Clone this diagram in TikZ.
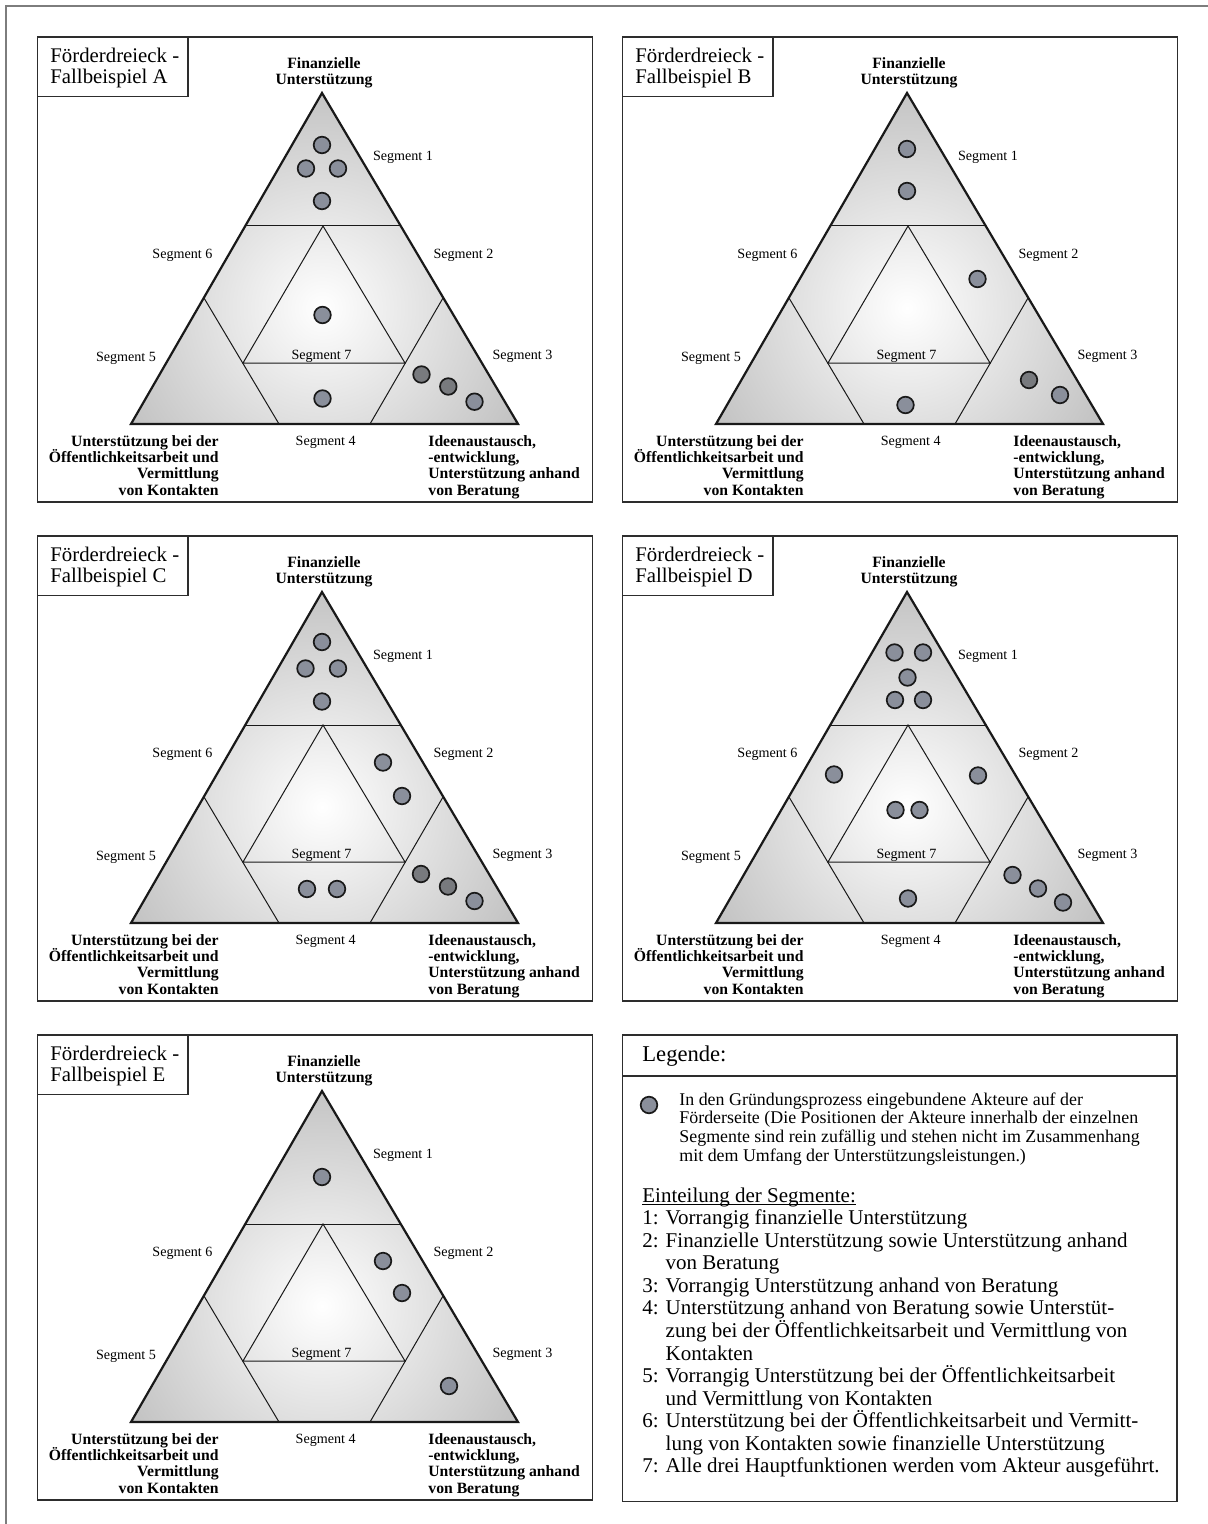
\documentclass[tikz,border=0pt]{standalone}
\usepackage{fontspec}
\setmainfont{Liberation Serif}

\definecolor{actorfill}{RGB}{138,143,155}
\definecolor{actordark}{RGB}{120,122,126}
\definecolor{framegray}{RGB}{125,125,125}
\definecolor{boxline}{RGB}{45,45,45}
\definecolor{shadeout}{RGB}{132,132,132}

\tikzset{
  panelbox/.style={draw=boxline, line width=0.7pt},
  titlebox/.style={draw=boxline, line width=0.7pt, fill=white},
  outertri/.style={draw=black!90, line width=1.1pt, line join=miter},
  segline/.style={draw=black!90, line width=0.5pt},
  seglabel/.style={inner sep=0pt, anchor=base, font=\fontsize{7.05}{8}\selectfont},
  titletext/.style={inner sep=0pt, anchor=base west, font=\fontsize{10.4}{11}\selectfont},
  axislabel/.style={inner sep=0pt, font=\fontsize{7.85}{8}\selectfont\bfseries},
  legtext/.style={inner sep=0pt, anchor=base west, font=\fontsize{10.5}{11}\selectfont},
  legsmall/.style={inner sep=0pt, anchor=base west, font=\fontsize{8.95}{9.3}\selectfont},
  actor/.style={circle, draw=black!90, line width=0.85pt, fill=actorfill,
                minimum size=8.3pt, inner sep=0pt},
  actordk/.style={actor, fill=actordark},
}

% One support triangle panel: #1 name, #2/#3 shift, #4 case letter
\newcommand{\foerderpanel}[4]{%
\begin{scope}[shift={(#2,#3)}]
  \draw[panelbox] (37.5,37) rectangle (592.5,502);
  \coordinate (#1-T) at (322,93);
  \coordinate (#1-L) at (131,424);
  \coordinate (#1-R) at (518,424);
  % radial grey shading of the triangle
  \begin{scope}
    \clip (#1-T) -- (#1-L) -- (#1-R) -- cycle;
    \shade[inner color=white, outer color=shadeout] (322,308) circle (225pt);
  \end{scope}
  % segment boundaries
  \coordinate (#1-s1l) at (245,226);
  \coordinate (#1-s1r) at (401,226);
  \coordinate (#1-c5b) at (279,424);
  \coordinate (#1-c5t) at (204,298);
  \coordinate (#1-c3b) at (370,424);
  \coordinate (#1-c3t) at (443,298);
  \coordinate (#1-i7l) at (243,363);
  \coordinate (#1-i7t) at (323,226);
  \coordinate (#1-i7r) at (405,363);
  \draw[segline] (#1-s1l) -- (#1-s1r);
  \draw[segline] (#1-c5b) -- (#1-c5t);
  \draw[segline] (#1-c3b) -- (#1-c3t);
  \draw[segline] (#1-i7l) -- (#1-i7t) -- (#1-i7r) -- cycle;
  \draw[outertri] (#1-T) -- (#1-L) -- (#1-R) -- cycle;
  % title
  \draw[titlebox] (37.5,37) rectangle (188,96.5);
  \node[titletext] (#1-t1) at (50,62.5) {Förderdreieck -};
  \node[titletext] (#1-t2) at (50,83.5) {Fallbeispiel #4};
  % corner labels
  \node[axislabel, anchor=base] (#1-f1) at (324,68.3) {Finanzielle};
  \node[axislabel, anchor=base] (#1-f2) at (324,84.3) {Unterstützung};
  \foreach \txt [count=\k] in {Unterstützung bei der, Öffentlichkeitsarbeit und,
      Vermittlung, von Kontakten}
    \node[axislabel, anchor=base east] (#1-pl\k) at (219,{446.7+(\k-1)*16.1}) {\txt};
  \foreach \txt [count=\k] in {{Ideenaustausch,}, {-entwicklung,},
      Unterstützung anhand, von Beratung}
    \node[axislabel, anchor=base west] (#1-pr\k) at (428,{446.7+(\k-1)*16.1}) {\txt};
  % segment labels
  \node[seglabel] (#1-g1) at (403,160.5) {Segment 1};
  \node[seglabel] (#1-g2) at (463.5,258.8) {Segment 2};
  \node[seglabel] (#1-g3) at (522.5,359) {Segment 3};
  \node[seglabel] (#1-g4) at (325.7,445) {Segment 4};
  \node[seglabel] (#1-g5) at (126,361.5) {Segment 5};
  \node[seglabel] (#1-g6) at (182.4,258.8) {Segment 6};
  \node[seglabel] (#1-g7) at (321.5,359) {Segment 7};
\end{scope}}

\begin{document}
\begin{tikzpicture}[x=0.5pt, y=-0.5pt]
  \useasboundingbox (0,0) rectangle (1208,1524);
  % page frame
  \draw[framegray, line width=1pt] (1208,6.5) -- (6,6.5) -- (6,1524);

  \foerderpanel{A}{0}{0}{A}
  \foerderpanel{B}{585}{0}{B}
  \foerderpanel{C}{0}{499}{C}
  \foerderpanel{D}{585}{499}{D}
  \foerderpanel{E}{0}{998}{E}

  % actors, case A
  \begin{scope}
    \node[actor] (A-a1) at (322,145) {};
    \node[actor] (A-a2) at (306,168.5) {};
    \node[actor] (A-a3) at (338,168.5) {};
    \node[actor] (A-a4) at (322,201) {};
    \node[actor] (A-a5) at (322.5,315) {};
    \node[actor] (A-a6) at (322.5,398.5) {};
    \node[actordk] (A-a7) at (421.5,374.5) {};
    \node[actordk] (A-a8) at (448.3,386.5) {};
    \node[actor] (A-a9) at (474.5,401.7) {};
  \end{scope}
  % actors, case B
  \begin{scope}[shift={(585,0)}]
    \node[actor] (B-a1) at (322,149) {};
    \node[actor] (B-a2) at (322,191) {};
    \node[actor] (B-a3) at (392.5,279) {};
    \node[actordk] (B-a4) at (444,380) {};
    \node[actor] (B-a5) at (475,395) {};
    \node[actor] (B-a6) at (320.5,405) {};
  \end{scope}
  % actors, case C
  \begin{scope}[shift={(0,499)}]
    \node[actor] (C-a1) at (322,143) {};
    \node[actor] (C-a2) at (305.5,169.5) {};
    \node[actor] (C-a3) at (338,169.5) {};
    \node[actor] (C-a4) at (322,202.5) {};
    \node[actor] (C-a5) at (383,263.5) {};
    \node[actor] (C-a6) at (402,297) {};
    \node[actor] (C-a7) at (307,390) {};
    \node[actor] (C-a8) at (337,390) {};
    \node[actordk] (C-a9) at (421,375) {};
    \node[actordk] (C-a10) at (448,387.5) {};
    \node[actor] (C-a11) at (474.5,402) {};
  \end{scope}
  % actors, case D
  \begin{scope}[shift={(585,499)}]
    \node[actor] (D-a1) at (309.5,153.5) {};
    \node[actor] (D-a2) at (338,153.5) {};
    \node[actor] (D-a3) at (322.5,178.5) {};
    \node[actor] (D-a4) at (310,201) {};
    \node[actor] (D-a5) at (338,201) {};
    \node[actor] (D-a6) at (249,275.5) {};
    \node[actor] (D-a7) at (393,276.5) {};
    \node[actor] (D-a8) at (310.5,311) {};
    \node[actor] (D-a9) at (334.5,311) {};
    \node[actor] (D-a10) at (323,399.5) {};
    \node[actor] (D-a11) at (427.5,376) {};
    \node[actor] (D-a12) at (453,389.5) {};
    \node[actor] (D-a13) at (478,403.5) {};
  \end{scope}
  % actors, case E
  \begin{scope}[shift={(0,998)}]
    \node[actor] (E-a1) at (322,179) {};
    \node[actor] (E-a2) at (383,263) {};
    \node[actor] (E-a3) at (402,295) {};
    \node[actor] (E-a4) at (449,388) {};
  \end{scope}

  % legend
  \draw[panelbox] (622.5,1035) rectangle (1177,1501.5);
  \draw[panelbox] (622.5,1076) -- (1177,1076);
  \node[inner sep=0pt, anchor=base west, font=\fontsize{11.3}{12}\selectfont]
    (leg-head) at (642,1061.7) {Legende:};
  \node[actor] (leg-dot) at (649,1105) {};
  \foreach \txt [count=\k] in {
      {In den Gründungsprozess eingebundene Akteure auf der},
      {Förderseite (Die Positionen der Akteure innerhalb der einzelnen},
      {Segmente sind rein zufällig und stehen nicht im Zusammenhang},
      {mit dem Umfang der Unterstützungsleistungen.)}}
    \node[legsmall] (leg-s\k) at (679,{1105.3+(\k-1)*18.65}) {\txt};
  \foreach \txt [count=\k] in {
      {Einteilung der Segmente:},
      {1: Vorrangig finanzielle Unterstützung},
      {2: Finanzielle Unterstützung sowie Unterstützung anhand},
      {\hphantom{2: }von Beratung},
      {3: Vorrangig Unterstützung anhand von Beratung},
      {4: Unterstützung anhand von Beratung sowie Unterstüt-},
      {\hphantom{4: }zung bei der Öffentlichkeitsarbeit und Vermittlung von},
      {\hphantom{4: }Kontakten},
      {5: Vorrangig Unterstützung bei der Öffentlichkeitsarbeit},
      {\hphantom{5: }und Vermittlung von Kontakten},
      {6: Unterstützung bei der Öffentlichkeitsarbeit und Vermitt-},
      {\hphantom{6: }lung von Kontakten sowie finanzielle Unterstützung},
      {7: Alle drei Hauptfunktionen werden vom Akteur ausgeführt.}}
    \node[legtext] (leg-m\k) at (642,{1202+(\k-1)*22.57}) {\txt};
  % underline of the segment heading
  \draw[line width=0.5pt] ([yshift=-1.3pt]leg-m1.base west) -- ([yshift=-1.3pt]leg-m1.base east);
\end{tikzpicture}
\end{document}
